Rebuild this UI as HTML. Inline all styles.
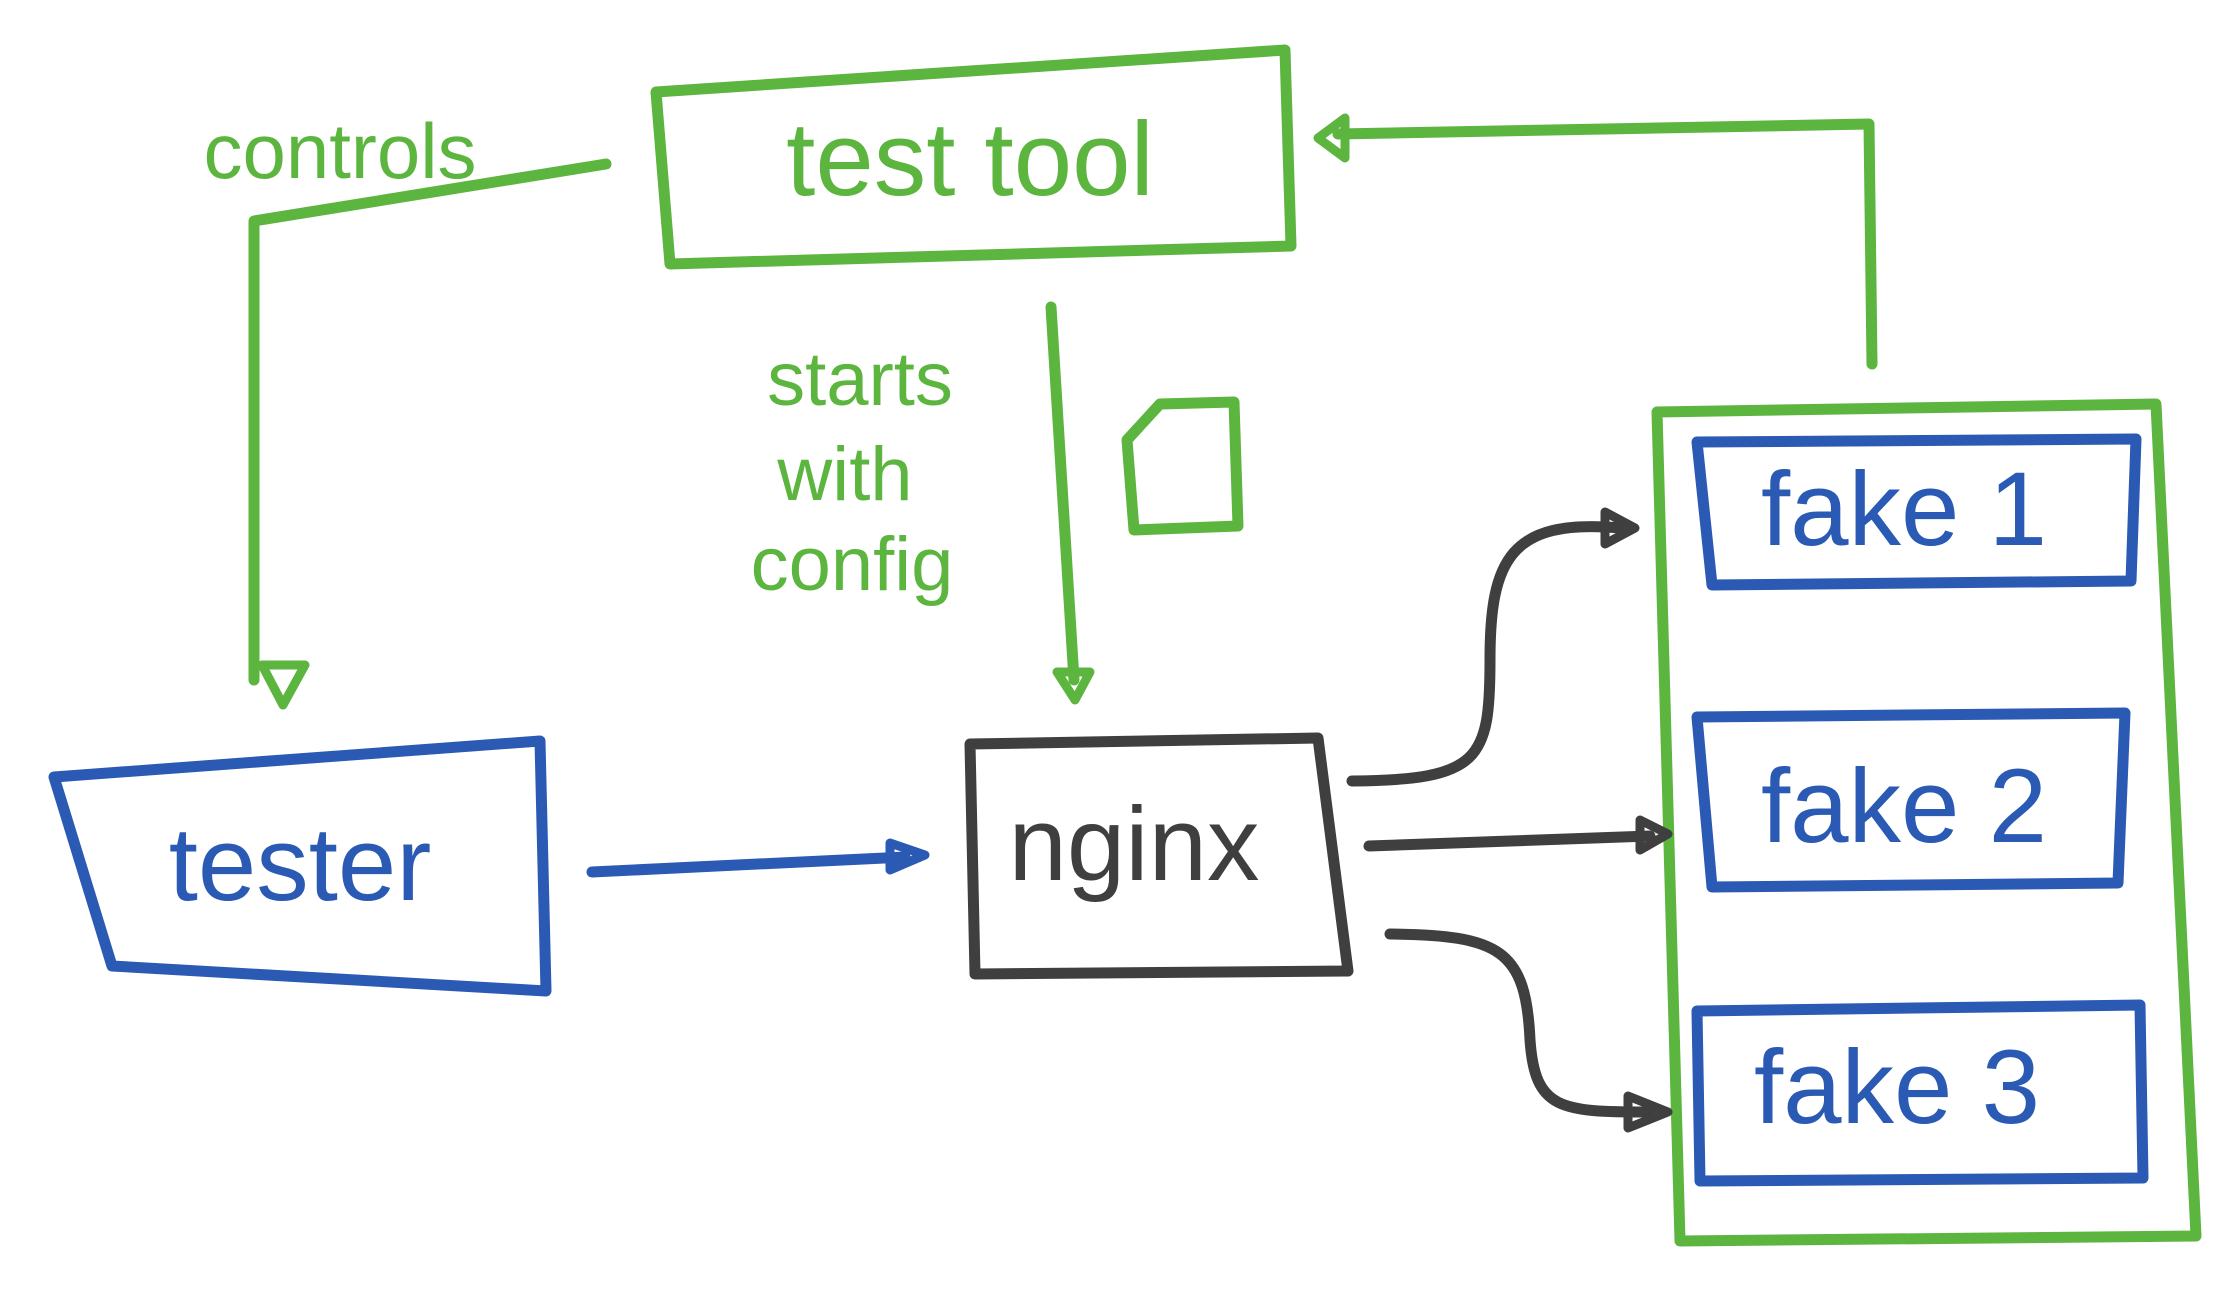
<!DOCTYPE html>
<html><head><meta charset="utf-8"><style>
html,body{margin:0;padding:0;background:#fff;}
svg{display:block}
text{font-family:"Liberation Sans",sans-serif;}
</style></head><body>
<svg width="2213" height="1294" viewBox="0 0 2213 1294" xmlns="http://www.w3.org/2000/svg">
<g fill="none" stroke-linecap="round" stroke-linejoin="round">
<!-- green -->
<g stroke="#5cb53e" stroke-width="11">
<polygon points="656,92 1285,50 1291,246 670,264"/>
<path d="M606,164 L254,221 L254,680"/>
<polygon points="262,665 305,665 283,705" stroke-width="9"/>
<path d="M1051,307 L1074,680"/>
<polygon points="1057,672 1090,672 1075,700" stroke-width="9"/>
<path d="M1872,364 L1869,124 L1338,134"/>
<polygon points="1318,138 1345,118 1345,158" stroke-width="9"/>
<polygon points="1657,412 2156,404 2196,1236 1680,1241"/>
<path d="M1127,440 L1160,404 L1234,402 L1238,526 L1134,530 Z"/>
</g>
<!-- blue -->
<g stroke="#2a5ab3" stroke-width="11">
<polygon points="54,777 540,741 546,991 112,966"/>
<polygon points="1697,442 2136,439 2131,581 1712,585"/>
<polygon points="1697,717 2125,713 2118,883 1712,887"/>
<polygon points="1697,1011 2140,1005 2143,1178 1700,1181"/>
<path d="M592,872 L905,857"/>
<polygon points="890,843 925,855 890,870" stroke-width="9"/>
</g>
<!-- gray -->
<g stroke="#3f3f3f" stroke-width="11">
<polygon points="970,744 1318,738 1348,971 975,974"/>
<path d="M1352,781 C1480,780 1490,760 1490,660 C1490,560 1510,518 1620,528"/>
<polygon points="1605,512 1635,528 1605,544" stroke-width="9"/>
<path d="M1369,846 L1650,836"/>
<polygon points="1640,820 1668,834 1640,850" stroke-width="9"/>
<path d="M1390,934 C1500,935 1526,950 1530,1040 C1535,1110 1560,1112 1650,1112"/>
<polygon points="1628,1096 1668,1112 1628,1128" stroke-width="9"/>
</g>
</g>
<g font-size="105" text-anchor="middle">
<text x="970" y="195" fill="#5cb53e">test tool</text>
<text x="340" y="178" fill="#5cb53e" font-size="78">controls</text>
<text x="860" y="405" fill="#5cb53e" font-size="76">starts</text>
<text x="845" y="500" fill="#5cb53e" font-size="76">with</text>
<text x="852" y="590" fill="#5cb53e" font-size="76">config</text>
<text x="300" y="900" fill="#2a5ab3">tester</text>
<text x="1134" y="880" fill="#3f3f3f">nginx</text>
<text x="1904" y="545" fill="#2a5ab3">fake 1</text>
<text x="1904" y="842" fill="#2a5ab3">fake 2</text>
<text x="1897" y="1123" fill="#2a5ab3">fake 3</text>
</g>
</svg>
</body></html>
